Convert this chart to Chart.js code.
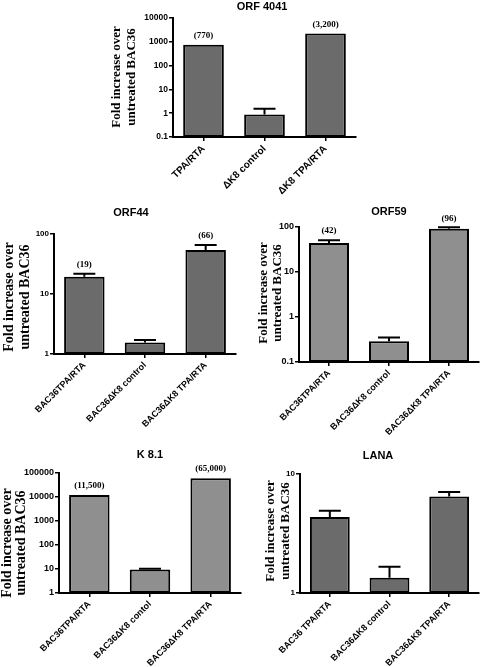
<!DOCTYPE html>
<html>
<head>
<meta charset="utf-8">
<script src="https://cdn.jsdelivr.net/npm/chart.js@4"></script>
<style>
  html, body { margin: 0; padding: 0; background: #fff; }
  #wrap { position: relative; width: 480px; height: 667px; }
  #wrap canvas { position: absolute; left: 0; top: 0; }
</style>
</head>
<body>
<div id="wrap">
  <canvas id="orf4041" width="480" height="667"></canvas>
  <canvas id="orf44" width="480" height="667"></canvas>
  <canvas id="orf59" width="480" height="667"></canvas>
  <canvas id="k81" width="480" height="667"></canvas>
  <canvas id="lana" width="480" height="667"></canvas>
</div>
<script>
// ORF 4041
const orf4041Labels = ["TPA/RTA", "ΔK8 control", "ΔK8 TPA/RTA"]
const orf4041Values = [750, 0.88, 2250]
const orf4041Upper = [null, 1.55, null]
const orf4041Notes = ["(770)", "", "(3,200)"]
const orf4041Ticks = [0.1, 1, 10, 100, 1000, 10000]

// ORF44
const orf44Labels = ["BAC36TPA/RTA", "BAC36ΔK8 control", "BAC36ΔK8 TPA/RTA"]
const orf44Values = [19.4, 1.55, 54]
const orf44Upper = [21.8, 1.71, 65.6]
const orf44Notes = ["(19)", "", "(66)"]
const orf44Ticks = [1, 10, 100]

// ORF59
const orf59Labels = ["BAC36TPA/RTA", "BAC36ΔK8 control", "BAC36ΔK8 TPA/RTA"]
const orf59Values = [44, 0.29, 91]
const orf59Upper = [51, 0.35, 99]
const orf59Notes = ["(42)", "", "(96)"]
const orf59Ticks = [0.1, 1, 10, 100]

// K 8.1
const k81Labels = ["BAC36TPA/RTA", "BAC36ΔK8 contol", "BAC36ΔK8 TPA/RTA"]
const k81Values = [12200, 9.5, 61000]
const k81Upper = [null, 10.3, null]
const k81Notes = ["(11,500)", "", "(65,000)"]
const k81Ticks = [1, 10, 100, 1000, 10000, 100000]

// LANA
const lanaLabels = ["BAC36 TPA/RTA", "BAC36ΔK8 control", "BAC36ΔK8 TPA/RTA"]
const lanaValues = [4.35, 1.34, 6.48]
const lanaUpper = [4.92, 1.66, 7.06]
const lanaNotes = ["", "", ""]
const lanaTicks = [1, 10]

const yTitleLines = ["Fold increase over", "untreated BAC36"]

const SANS = "'Liberation Sans', Arial, sans-serif"
const SERIF = "'Liberation Serif', 'Times New Roman', serif"
const DARK = "#6b6b6b"
const LIGHT = "#8f8f8f"
const Y_W = 54 // y axis box width
const X_H = 74 // x axis box height (labels are clipped to it)

// titles, error bars and value notes
const decorPlugin = {
  id: "decor",
  afterDatasetsDraw(chart, args, opts) {
    const ctx = chart.ctx
    const meta = chart.getDatasetMeta(0)
    const y = chart.scales.y
    ctx.save()
    ctx.fillStyle = "#000"
    ctx.strokeStyle = "#000"

    // error bars (upper half only)
    ctx.lineWidth = 2
    opts.upper.forEach((u, i) => {
      if (u == null) return
      const bar = meta.data[i]
      const top = y.getPixelForValue(u)
      ctx.beginPath()
      ctx.moveTo(bar.x, bar.y)
      ctx.lineTo(bar.x, top)
      ctx.moveTo(bar.x - 11, top)
      ctx.lineTo(bar.x + 11, top)
      ctx.stroke()
    })

    // notes above bars
    ctx.font = "bold 9px " + SERIF
    ctx.textAlign = "center"
    ctx.textBaseline = "middle"
    opts.notes.forEach((n, i) => {
      if (!n) return
      const bar = meta.data[i]
      let top = bar.y
      if (opts.upper[i] != null) top = Math.min(top, y.getPixelForValue(opts.upper[i]))
      ctx.fillText(n, bar.x, top - 9)
    })

    // panel title
    ctx.font = "bold 11px " + SANS
    ctx.fillText(opts.title, opts.titleX, opts.titleY)

    // y axis title
    ctx.font = "bold " + opts.yFont + "px " + SERIF
    opts.yX.forEach((x, i) => {
      ctx.save()
      ctx.translate(x, opts.yY)
      ctx.rotate(-Math.PI / 2)
      ctx.fillText(yTitleLines[i], 0, 0)
      ctx.restore()
    })
    ctx.restore()
  },
}

function makePanel(id, p) {
  const config = {
    type: "bar",
    data: {
      labels: p.labels,
      datasets: [
        {
          data: p.values,
          backgroundColor: p.color,
          borderColor: "#000",
          borderWidth: 2,
          borderSkipped: false,
          categoryPercentage: 1,
          barPercentage: 0.667,
        },
      ],
    },
    options: {
      responsive: false,
      animation: false,
      layout: {
        padding: {
          left: p.area.l - Y_W,
          right: 480 - p.area.r,
          top: p.area.t,
          bottom: 667 - p.area.b - X_H,
        },
      },
      plugins: {
        legend: { display: false },
        tooltip: { enabled: false },
        decor: {
          upper: p.upper,
          notes: p.notes,
          title: p.title,
          titleX: p.titleX,
          titleY: p.titleY,
          yX: p.yX,
          yY: p.yY,
          yFont: p.yFont,
        },
      },
      scales: {
        x: {
          offset: true,
          afterFit: s => { s.height = X_H },
          border: { display: true, color: "#000", width: 2 },
          grid: {
            offset: false,
            drawOnChartArea: false,
            drawTicks: true,
            tickLength: 4,
            color: "#000",
            lineWidth: 1.5,
          },
          ticks: {
            minRotation: 45,
            maxRotation: 45,
            autoSkip: false,
            padding: 2,
            color: "#000",
            font: { family: SANS, size: p.xFont, weight: "bold" },
          },
        },
        y: {
          type: "logarithmic",
          min: p.ticks[0],
          max: p.ticks[p.ticks.length - 1],
          afterFit: s => { s.width = Y_W },
          afterBuildTicks: s => { s.ticks = p.ticks.map(v => ({ value: v, major: true })) },
          border: { display: true, color: "#000", width: 2 },
          grid: {
            drawOnChartArea: false,
            drawTicks: true,
            tickLength: 4,
            color: "#000",
            lineWidth: 1.5,
          },
          ticks: {
            padding: 1,
            color: "#000",
            font: { family: SANS, size: p.tFont, weight: "bold" },
            callback: v => String(v),
          },
        },
      },
    },
    plugins: [decorPlugin],
  }
  new Chart(document.getElementById(id), config)
}

makePanel("orf4041", {
  labels: orf4041Labels, values: orf4041Values, upper: orf4041Upper, notes: orf4041Notes, ticks: orf4041Ticks,
  color: DARK, area: { l: 173, r: 356, t: 18, b: 137 },
  title: "ORF 4041", titleX: 262, titleY: 7,
  yX: [117, 132], yY: 77, yFont: 13, xFont: 10, tFont: 8.5,
})
makePanel("orf44", {
  labels: orf44Labels, values: orf44Values, upper: orf44Upper, notes: orf44Notes, ticks: orf44Ticks,
  color: DARK, area: { l: 54, r: 236, t: 234, b: 354 },
  title: "ORF44", titleX: 131, titleY: 213,
  yX: [9, 25], yY: 297, yFont: 14, xFont: 9, tFont: 8,
})
makePanel("orf59", {
  labels: orf59Labels, values: orf59Values, upper: orf59Upper, notes: orf59Notes, ticks: orf59Ticks,
  color: LIGHT, area: { l: 299, r: 479, t: 227, b: 362 },
  title: "ORF59", titleX: 389, titleY: 212,
  yX: [264, 278], yY: 293, yFont: 13, xFont: 9, tFont: 9,
})
makePanel("k81", {
  labels: k81Labels, values: k81Values, upper: k81Upper, notes: k81Notes, ticks: k81Ticks,
  color: LIGHT, area: { l: 59, r: 241, t: 473, b: 593 },
  title: "K 8.1", titleX: 150, titleY: 455,
  yX: [7, 21], yY: 543, yFont: 14, xFont: 9, tFont: 9,
})
makePanel("lana", {
  labels: lanaLabels, values: lanaValues, upper: lanaUpper, notes: lanaNotes, ticks: lanaTicks,
  color: DARK, area: { l: 300, r: 479, t: 474, b: 593 },
  title: "LANA", titleX: 378, titleY: 456,
  yX: [271, 286], yY: 531, yFont: 13, xFont: 9, tFont: 8,
})
</script>
</body>
</html>
